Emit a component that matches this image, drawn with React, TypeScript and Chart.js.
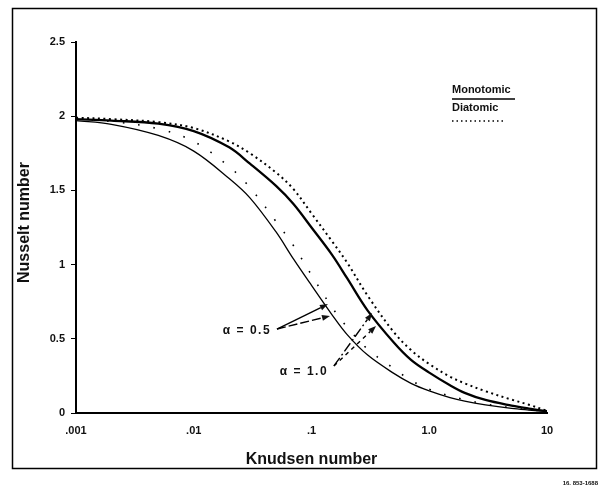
import React, { useEffect, useRef } from "react";
import { Chart, registerables } from "chart.js";

Chart.register(...registerables);

// Knudsen numbers (x, log scale)
const knudsen = [0.001, 0.002, 0.005, 0.01, 0.02, 0.03, 0.05, 0.07, 0.1, 0.15, 0.2, 0.3, 0.5, 0.7, 1, 1.5, 2, 3, 5, 7, 10];

// Nusselt numbers
const monoAlphaHalf = [1.97, 1.945, 1.87, 1.765, 1.58, 1.45, 1.22, 1.04, 0.86, 0.66, 0.53, 0.39, 0.267, 0.2, 0.149, 0.104, 0.08, 0.055, 0.031, 0.02, 0.01];
const monoAlphaOne = [1.98, 1.97, 1.95, 1.9, 1.79, 1.68, 1.53, 1.41, 1.25, 1.064, 0.91, 0.69, 0.475, 0.358, 0.272, 0.187, 0.136, 0.088, 0.05, 0.03, 0.012];
const diAlphaHalf = [1.98, 1.965, 1.915, 1.83, 1.66, 1.52, 1.29, 1.13, 0.93, 0.71, 0.58, 0.43, 0.3, 0.22, 0.16, 0.115, 0.09, 0.06, 0.035, 0.022, 0.012];
const diAlphaOne = [1.99, 1.98, 1.96, 1.92, 1.83, 1.75, 1.62, 1.51, 1.345, 1.155, 1.015, 0.79, 0.545, 0.424, 0.33, 0.245, 0.2, 0.147, 0.09, 0.056, 0.015];

const xTickValues = [0.001, 0.01, 0.1, 1, 10];
const xTickLabels = [".001", ".01", ".1", "1.0", "10"];
const yTickValues = [0, 0.5, 1, 1.5, 2, 2.5];
const yTickLabels = ["0", "0.5", "1", "1.5", "2", "2.5"];

const legendLabels = ["Monotomic", "Diatomic"];
const alphaLabels = ["\u03b1 = 0.5", "\u03b1 = 1.0"];

// annotation anchors in data coordinates [Kn, Nu]
const alphaHalfText = [0.0283, 0.553];
const alphaHalfFrom = [0.0509, 0.566];
const alphaHalfTips = [[0.138, 0.734], [0.1436, 0.654]];
const alphaOneText = [0.0863, 0.276];
const alphaOneFrom = [0.155, 0.317];
const alphaOneTips = [[0.327, 0.674], [0.353, 0.586]];

const FONT = '"Liberation Sans", Arial, sans-serif';

function arrow(ctx: CanvasRenderingContext2D, x0: number, y0: number, x1: number, y1: number, dash: number[]) {
  const ang = Math.atan2(y1 - y0, x1 - x0);
  const len = 8;
  const bx = x1 - Math.cos(ang) * len;
  const by = y1 - Math.sin(ang) * len;
  ctx.setLineDash(dash);
  ctx.beginPath();
  ctx.moveTo(x0, y0);
  ctx.lineTo(bx, by);
  ctx.stroke();
  ctx.setLineDash([]);
  ctx.beginPath();
  ctx.moveTo(x1, y1);
  ctx.lineTo(bx + Math.sin(ang) * 3, by - Math.cos(ang) * 3);
  ctx.lineTo(bx - Math.sin(ang) * 3, by + Math.cos(ang) * 3);
  ctx.closePath();
  ctx.fill();
}

const decor = {
  id: "decor",
  beforeDraw(chart: any) {
    const { ctx, width, height } = chart;
    ctx.save();
    ctx.fillStyle = "#fff";
    ctx.fillRect(0, 0, width, height);
    ctx.restore();
  },
  afterDraw(chart: any) {
    const { ctx, chartArea: ca, scales } = chart;
    const x = scales.x;
    const y = scales.y;
    const px = (p: number[]) => [x.getPixelForValue(p[0]), y.getPixelForValue(p[1])];
    ctx.save();
    ctx.strokeStyle = "#000";
    ctx.fillStyle = "#111";
    // outer frame
    ctx.lineWidth = 1.5;
    ctx.strokeRect(12.5, 8.5, chart.width - 15, chart.height - 28);

    // axis titles
    ctx.font = `bold 16px ${FONT}`;
    ctx.textAlign = "center";
    ctx.textBaseline = "middle";
    ctx.fillText("Knudsen number", (ca.left + ca.right) / 2, ca.bottom + 47);
    ctx.save();
    ctx.translate(25, (ca.top + ca.bottom) / 2 - 5);
    ctx.rotate(-Math.PI / 2);
    ctx.fillText("Nusselt number", 0, 0);
    ctx.restore();

    // legend
    const lx = ca.right - 95;
    const ly = ca.top + 48;
    ctx.font = `bold 11px ${FONT}`;
    ctx.textAlign = "left";
    ctx.fillText(legendLabels[0], lx, ly);
    ctx.lineWidth = 1.6;
    ctx.beginPath();
    ctx.moveTo(lx, ly + 9);
    ctx.lineTo(lx + 63, ly + 9);
    ctx.stroke();
    ctx.fillText(legendLabels[1], lx, ly + 18);
    ctx.setLineDash([1.5, 3]);
    ctx.lineWidth = 1.5;
    ctx.beginPath();
    ctx.moveTo(lx, ly + 31);
    ctx.lineTo(lx + 52, ly + 31);
    ctx.stroke();
    ctx.setLineDash([]);

    // alpha annotations
    ctx.font = `bold 12px ${FONT}`;
    ctx.textAlign = "center";
    try { (ctx as any).letterSpacing = "1.5px"; } catch (e) {}
    const t1 = px(alphaHalfText);
    ctx.fillText(alphaLabels[0], t1[0], t1[1]);
    const t2 = px(alphaOneText);
    ctx.fillText(alphaLabels[1], t2[0], t2[1]);
    try { (ctx as any).letterSpacing = "0px"; } catch (e) {}

    ctx.lineWidth = 1.4;
    const f1 = px(alphaHalfFrom);
    const a1 = px(alphaHalfTips[0]);
    const a2 = px(alphaHalfTips[1]);
    arrow(ctx, f1[0], f1[1], a1[0], a1[1], []);
    arrow(ctx, f1[0], f1[1], a2[0], a2[1], [9, 3]);
    const f2 = px(alphaOneFrom);
    const b1 = px(alphaOneTips[0]);
    const b2 = px(alphaOneTips[1]);
    arrow(ctx, f2[0], f2[1], b1[0], b1[1], [10, 3, 2, 3]);
    arrow(ctx, f2[0], f2[1], b2[0], b2[1], [4, 4]);

    // reference number
    ctx.font = `bold 6px ${FONT}`;
    ctx.textAlign = "right";
    ctx.fillText("16. 853-1688", chart.width - 1, chart.height - 5);
    ctx.restore();
  },
};

export default function App() {
  const ref = useRef<HTMLCanvasElement | null>(null);
  useEffect(() => {
    if (!ref.current) return;
    const mk = (data: number[]) => knudsen.map((k, i) => ({ x: k, y: data[i] }));
    const common = { borderColor: "#000", pointRadius: 0, tension: 0.35, fill: false };
    const chart = new Chart(ref.current, {
      type: "line",
      data: {
        datasets: [
          { ...common, label: "Monotomic \u03b1 = 0.5", data: mk(monoAlphaHalf), borderWidth: 1.3 },
          { ...common, label: "Monotomic \u03b1 = 1.0", data: mk(monoAlphaOne), borderWidth: 2.3 },
          { ...common, label: "Diatomic \u03b1 = 0.5", data: mk(diAlphaHalf), borderWidth: 1.6, borderDash: [1.6, 14] },
          { ...common, label: "Diatomic \u03b1 = 1.0", data: mk(diAlphaOne), borderWidth: 2, borderDash: [2, 3.5] },
        ],
      },
      options: {
        responsive: false,
        animation: false,
        layout: { padding: { left: 0, top: 42, right: 52, bottom: 0 } },
        plugins: { legend: { display: false }, tooltip: { enabled: false } },
        scales: {
          x: {
            type: "logarithmic",
            min: 0.001,
            max: 10,
            afterFit: (s: any) => { s.height = 75; },
            afterBuildTicks: (s: any) => { s.ticks = xTickValues.map((v) => ({ value: v })); },
            ticks: {
              autoSkip: false,
              maxRotation: 0,
              padding: 7,
              color: "#111",
              font: { family: FONT, size: 11, weight: "bold" },
              callback: (_v: any, i: number) => xTickLabels[i],
            },
            grid: { drawOnChartArea: false, color: "rgba(0,0,0,0)", tickLength: 4 },
            border: { display: true, color: "#000", width: 2 },
          },
          y: {
            type: "linear",
            min: 0,
            max: 2.5,
            afterFit: (s: any) => { s.width = 76; },
            afterBuildTicks: (s: any) => { s.ticks = yTickValues.map((v) => ({ value: v })); },
            ticks: {
              padding: 6,
              color: "#111",
              font: { family: FONT, size: 11, weight: "bold" },
              callback: (_v: any, i: number) => yTickLabels[i],
            },
            grid: { drawOnChartArea: false, color: "#000", tickLength: 5, lineWidth: 1 },
            border: { display: true, color: "#000", width: 2 },
          },
        },
      },
      plugins: [decor],
    } as any);
    return () => chart.destroy();
  }, []);
  return (
    <div style={{ position: "absolute", left: 0, top: 0, width: 599, height: 488 }}>
      <canvas ref={ref} width={599} height={488} style={{ display: "block", width: 599, height: 488 }} />
    </div>
  );
}
